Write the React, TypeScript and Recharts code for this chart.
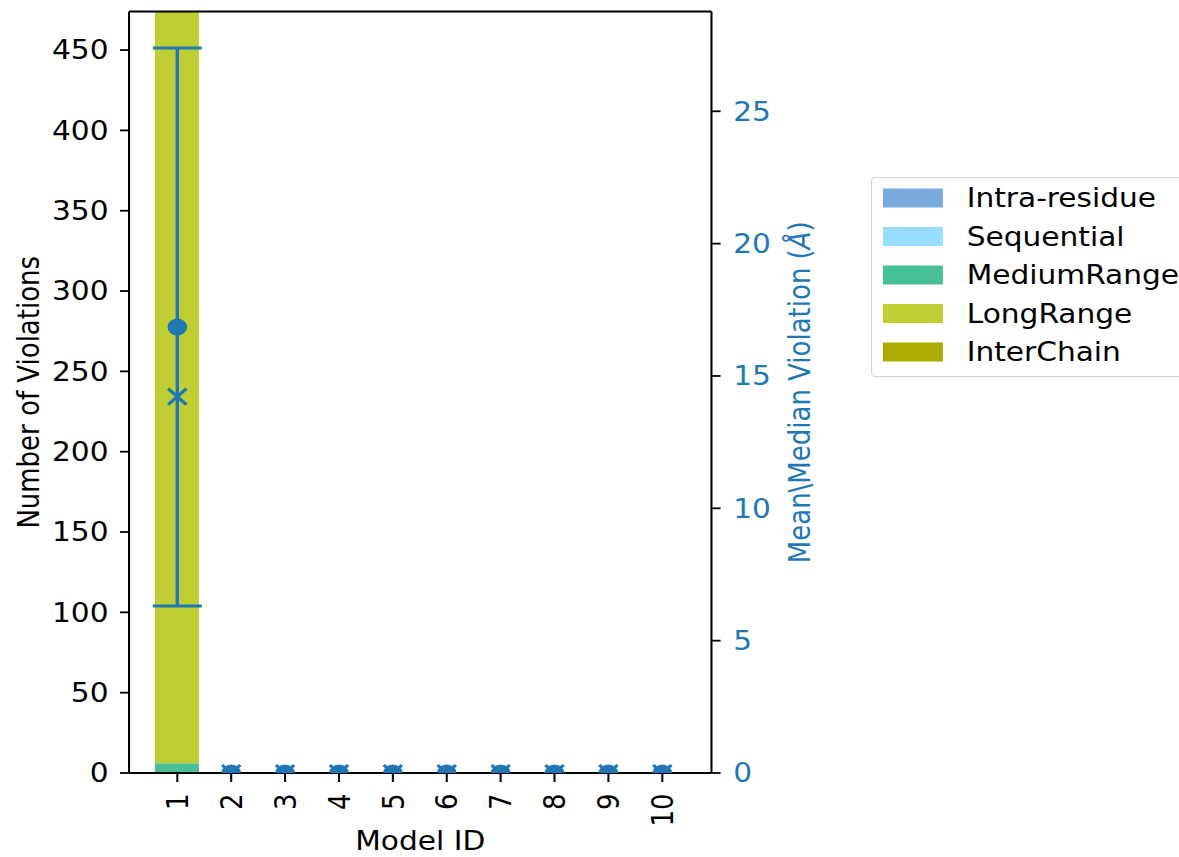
import React from 'react';
import { ComposedChart, Bar, Line, XAxis, YAxis, ErrorBar, ReferenceLine, Legend } from 'recharts';

// values
const models = ['1', '2', '3', '4', '5', '6', '7', '8', '9', '10'];
const intraResidue = [0, 0, 0, 0, 0, 0, 0, 0, 0, 0];
const sequential = [0, 0, 0, 0, 0, 0, 0, 0, 0, 0];
const mediumRange = [6, 0, 0, 0, 0, 0, 0, 0, 0, 0];
const longRange = [480, 0, 0, 0, 0, 0, 0, 0, 0, 0];
const interChain = [0, 0, 0, 0, 0, 0, 0, 0, 0, 0];
const meanViolation = [16.85, 0, 0, 0, 0, 0, 0, 0, 0, 0];
const medianViolation = [14.22, 0, 0, 0, 0, 0, 0, 0, 0, 0];
const stdViolation = [10.54, 0, 0, 0, 0, 0, 0, 0, 0, 0];
const leftTicks = [0, 50, 100, 150, 200, 250, 300, 350, 400, 450];
const rightTicks = [0, 5, 10, 15, 20, 25];
const leftMax = 474;
const rightMax = 28.77;

// the reference is stretched horizontally
const SX = 1.14;
const W = 1179 / SX;
const H = 857;
const BLUE = '#1f77b4';
const FONT = '"DejaVu Sans", sans-serif';
const FS = 26;

const series = [
  { key: 'intraResidue', name: 'Intra-residue', color: '#7aabde' },
  { key: 'sequential', name: 'Sequential', color: '#98dcff' },
  { key: 'mediumRange', name: 'MediumRange', color: '#47bf98' },
  { key: 'longRange', name: 'LongRange', color: '#bfce32' },
  { key: 'interChain', name: 'InterChain', color: '#abab00' },
];

const data = models.map((m, i) => ({
  model: m,
  intraResidue: intraResidue[i],
  sequential: sequential[i],
  mediumRange: mediumRange[i],
  longRange: longRange[i],
  interChain: interChain[i],
  mean: meanViolation[i],
  median: medianViolation[i],
  err: stdViolation[i],
}));

function ModelTick(props: any) {
  const { x, y, payload } = props;
  return (
    <text
      transform={`translate(${x},${y}) rotate(-90)`}
      textAnchor="end"
      dy="0.36em"
      fill="#000"
      fontSize={FS}
      fontFamily={FONT}
    >
      {payload.value}
    </text>
  );
}

function MeanDot(props: any) {
  const { cx, cy, index } = props;
  if (cx == null || cy == null) return <g key={`m${index}`} />;
  return <circle key={`m${index}`} cx={cx} cy={cy} r={8.6} fill={BLUE} />;
}

function MedianDot(props: any) {
  const { cx, cy, index } = props;
  if (cx == null || cy == null) return <g key={`d${index}`} />;
  const h = 8;
  return (
    <path
      key={`d${index}`}
      d={`M${cx - h},${cy - h}L${cx + h},${cy + h}M${cx - h},${cy + h}L${cx + h},${cy - h}`}
      stroke={BLUE}
      strokeWidth={3}
      fill="none"
    />
  );
}

function LegendBox() {
  return (
    <div
      style={{
        width: 290,
        height: 200,
        boxSizing: 'border-box',
        border: '1.5px solid #d4d4d4',
        borderRadius: 4,
        background: 'rgba(255,255,255,0.8)',
      }}
    >
      <svg width={290} height={200} style={{ display: 'block', marginTop: -1.5, marginLeft: -1.5 }}>
        {series.map((s, i) => {
          const cy = 21 + i * 38.5;
          return (
            <g key={s.key}>
              <rect x={10.5} y={cy - 9.5} width={52.6} height={19} fill={s.color} />
              <text x={84} y={cy + 9.4} fontSize={FS} fontFamily={FONT} fill="#000">
                {s.name}
              </text>
            </g>
          );
        })}
      </svg>
    </div>
  );
}

export default function App() {
  const axisStyle = { stroke: '#000', strokeWidth: 1.8 };
  return (
    <div style={{ width: 1179, height: 857, overflow: 'hidden', background: '#fff' }}>
      <style>{`body{margin:0;overflow:hidden;}`}</style>
      <div style={{ width: W, height: H, transform: `scaleX(${SX})`, transformOrigin: '0 0' }}>
        <ComposedChart
          width={W}
          height={H}
          data={data}
          margin={{ top: 11.5, right: 300.1, bottom: 0, left: 0 }}
          barCategoryGap={0}
        >
          <XAxis
            dataKey="model"
            padding={{ left: 18.7, right: 19.5 }}
            height={84}
            tickSize={9}
            tickMargin={11.5}
            interval={0}
            tick={(p: any) => <ModelTick {...p} />}
            axisLine={axisStyle}
            tickLine={axisStyle}
            label={(p: any) => {
              const vb = p.viewBox;
              return (
                <text
                  x={vb.x + vb.width / 2}
                  y={vb.y + vb.height - 7}
                  textAnchor="middle"
                  fontSize={FS}
                  fontFamily={FONT}
                  fill="#000"
                >
                  Model ID
                </text>
              );
            }}
          />
          <YAxis
            yAxisId="left"
            domain={[0, leftMax]}
            ticks={leftTicks}
            allowDataOverflow
            width={113.2}
            tickSize={8}
            tickMargin={10}
            interval={0}
            tick={{ fill: '#000', fontSize: FS, fontFamily: FONT }}
            axisLine={axisStyle}
            tickLine={axisStyle}
            label={(p: any) => {
              const vb = p.viewBox;
              return (
                <text
                  transform={`translate(34,${vb.y + vb.height / 2}) rotate(-90)`}
                  textAnchor="middle"
                  fontSize={FS}
                  fontFamily={FONT}
                  fill="#000"
                >
                  Number of Violations
                </text>
              );
            }}
          />
          <YAxis
            yAxisId="right"
            orientation="right"
            domain={[0, rightMax]}
            ticks={rightTicks}
            allowDataOverflow
            width={110}
            tickSize={8}
            tickMargin={11}
            interval={0}
            tick={{ fill: BLUE, fontSize: FS, fontFamily: FONT }}
            axisLine={axisStyle}
            tickLine={axisStyle}
            label={(p: any) => {
              const vb = p.viewBox;
              return (
                <text
                  transform={`translate(710.5,${vb.y + vb.height / 2}) rotate(-90)`}
                  textAnchor="middle"
                  fontSize={FS}
                  fontFamily={FONT}
                  fill={BLUE}
                >
                  Mean\Median Violation (<tspan fontStyle="italic">Å</tspan>)
                </text>
              );
            }}
          />
          {series.map((s) => (
            <Bar
              key={s.key}
              yAxisId="left"
              dataKey={s.key}
              name={s.name}
              stackId="a"
              fill={s.color}
              barSize={38.6}
              isAnimationActive={false}
            />
          ))}
          <ReferenceLine yAxisId="left" y={leftMax} stroke="#000" strokeWidth={1.8} />
          <Line
            yAxisId="right"
            dataKey="mean"
            stroke="none"
            legendType="none"
            dot={(p: any) => <MeanDot {...p} />}
            activeDot={false}
            isAnimationActive={false}
          >
            <ErrorBar dataKey="err" direction="y" width={21.5} stroke={BLUE} strokeWidth={3} />
          </Line>
          <Line
            yAxisId="right"
            dataKey="median"
            stroke="none"
            legendType="none"
            dot={(p: any) => <MedianDot {...p} />}
            activeDot={false}
            isAnimationActive={false}
          />
          <Legend
            layout="vertical"
            align="center"
            verticalAlign="middle"
            wrapperStyle={{ left: 764, top: 177, width: 290, height: 200 }}
            content={() => <LegendBox />}
          />
        </ComposedChart>
      </div>
    </div>
  );
}
